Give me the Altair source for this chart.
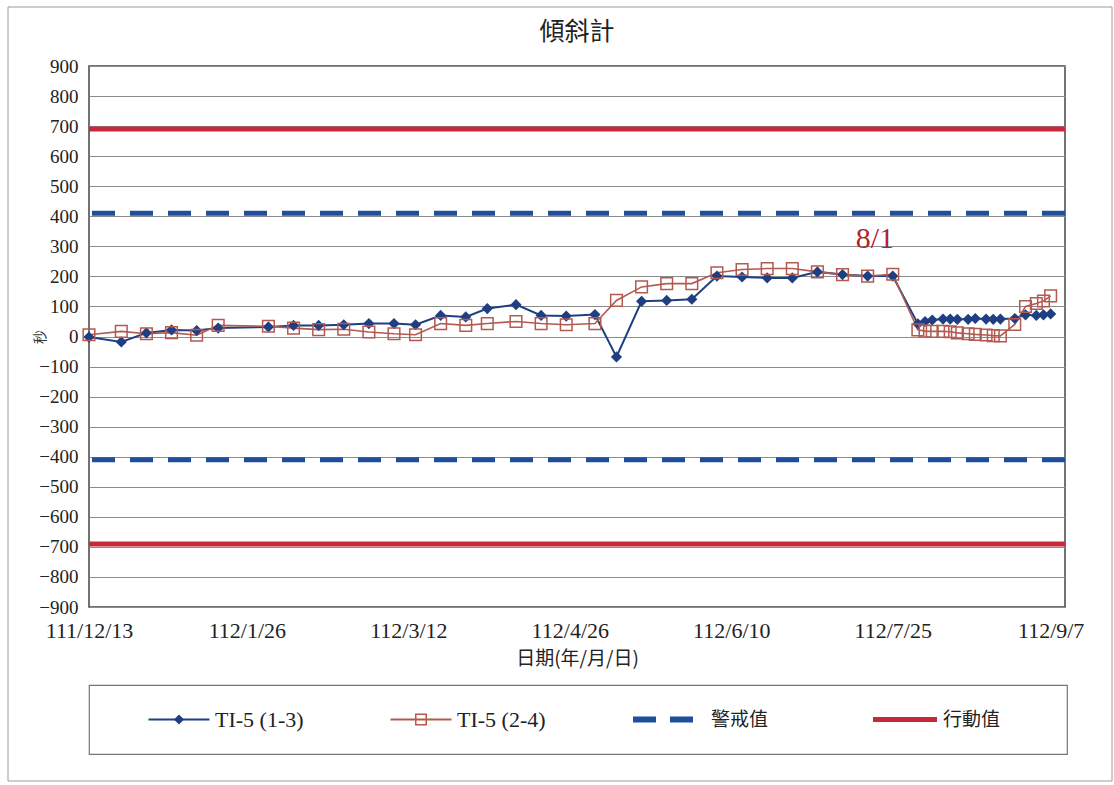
import altair as alt
import pandas as pd

# ---------------- data ----------------
dates = [
    "2022-12-13", "2022-12-22", "2022-12-29", "2023-01-05", "2023-01-12", "2023-01-18",
    "2023-02-01", "2023-02-08", "2023-02-15", "2023-02-22", "2023-03-01", "2023-03-08",
    "2023-03-14", "2023-03-21", "2023-03-28", "2023-04-03", "2023-04-11", "2023-04-18",
    "2023-04-25", "2023-05-03", "2023-05-09", "2023-05-16", "2023-05-23", "2023-05-30",
    "2023-06-06", "2023-06-13", "2023-06-20", "2023-06-27", "2023-07-04", "2023-07-11",
    "2023-07-18", "2023-07-25",
    "2023-08-01", "2023-08-03", "2023-08-05", "2023-08-08", "2023-08-10", "2023-08-12",
    "2023-08-15", "2023-08-17", "2023-08-20", "2023-08-22", "2023-08-24", "2023-08-28",
    "2023-08-31", "2023-09-03", "2023-09-05", "2023-09-07",
]
ti5_13 = [-2, -18, 12, 22, 20, 28, 32, 37, 37, 39, 43, 43,
          39, 70, 65, 93, 106, 70, 68, 73, -68, 117, 120, 124,
          201, 198, 195, 195, 215, 206, 201, 201,
          42, 50, 55, 58, 58, 57, 57, 60, 58, 57, 58, 60, 72, 70, 72, 75]
ti5_24 = [6, 17, 9, 13, 4, 37, 34, 28, 23, 24, 15, 9,
          6, 43, 37, 43, 50, 43, 39, 43, 120, 165, 176, 176,
          212, 223, 226, 226, 215, 206, 201, 207,
          22, 18, 17, 17, 16, 12, 9, 7, 5, 3, 2, 40, 100, 110, 118, 135]

alert_levels = [410, -410]      # 警戒值
action_levels = [690, -690]     # 行動值

x_tick_dates = ["2022-12-13", "2023-01-26", "2023-03-12", "2023-04-26",
                "2023-06-10", "2023-07-25", "2023-09-07"]
x_domain = ["2022-12-13", "2023-09-11"]
y_ticks = list(range(-900, 901, 100))

anno_label = ["8/1"]
anno_date = ["2023-07-20"]
anno_value = [324]

legend_labels = ["TI-5 (1-3)", "TI-5 (2-4)", "警戒值", "行動值"]

title_text = "傾斜計"
x_title = "日期(年/月/日)"
y_title = "秒"

# ---------------- styling ----------------
NAVY = "#1f3f82"
BROWN = "#b35a50"
BLUE = "#1f4f9c"
RED = "#c8283c"
SERIF = "Liberation Serif"
CJK = "Noto Sans CJK TC"


def dt(s):
    y, m, d = map(int, s.split("-"))
    return alt.DateTime(year=y, month=m, date=d)


df1 = pd.DataFrame({"date": [d + "T00:00" for d in dates], "value": ti5_13})
df2 = pd.DataFrame({"date": [d + "T00:00" for d in dates], "value": ti5_24})
df_alert = pd.DataFrame({"value": alert_levels})
df_action = pd.DataFrame({"value": action_levels})
df_anno = pd.DataFrame({"date": [d + "T00:00" for d in anno_date],
                        "value": anno_value, "label": anno_label})

W, H = 976, 541

x_enc = alt.X(
    "date:T",
    scale=alt.Scale(domain=[dt(x_domain[0]), dt(x_domain[1])]),
    axis=alt.Axis(
        values=[dt(s) for s in x_tick_dates],
        labelExpr="(year(datum.value) - 1911) + '/' + (month(datum.value) + 1) + '/' + date(datum.value)",
        grid=False, ticks=False, domain=False,
        labelFont=SERIF, labelFontSize=22, labelColor="#222",
        labelPadding=13, labelOverlap=False, labelFlush=False,
        titleFont=CJK, titleFontSize=19, titleFontWeight="normal",
        titleColor="#222", titlePadding=8,
    ),
    title=x_title,
)
y_enc = alt.Y(
    "value:Q",
    scale=alt.Scale(domain=[-900, 900], nice=False, zero=False),
    axis=alt.Axis(
        values=y_ticks, grid=True, gridColor="#8c8c8c", gridWidth=1,
        ticks=False, domain=False,
        labelFont=SERIF, labelFontSize=19, labelColor="#222", labelPadding=11,
        titleFont=CJK, titleFontSize=14, titleFontWeight="normal", titleColor="#333",
        titleX=-49, titleY=H / 2, titleAlign="center", titleBaseline="middle",
    ),
    title=y_title,
)

alert = alt.Chart(df_alert).mark_rule(
    color=BLUE, strokeWidth=5, strokeDash=[23, 15]
).encode(y=y_enc)
action = alt.Chart(df_action).mark_rule(color=RED, strokeWidth=5).encode(y=y_enc)

line1 = alt.Chart(df1).mark_line(color=NAVY, strokeWidth=2).encode(x=x_enc, y=y_enc)
line2 = alt.Chart(df2).mark_line(color=BROWN, strokeWidth=1.6).encode(x=x_enc, y=y_enc)
pts1 = alt.Chart(df1).mark_point(
    shape="diamond", filled=True, color=NAVY, size=125, opacity=1
).encode(x=x_enc, y=y_enc)
pts2 = alt.Chart(df2).mark_point(
    shape="square", filled=False, color=BROWN, size=135, strokeWidth=1.5, opacity=1
).encode(x=x_enc, y=y_enc)

anno = alt.Chart(df_anno).mark_text(
    font=SERIF, fontSize=30, color="#b0242e", baseline="middle", align="center"
).encode(x=x_enc, y=y_enc, text="label:N")

main = alt.layer(action, alert, line1, line2, pts1, pts2, anno).properties(
    width=W, height=H,
    title=alt.Title(title_text, font=CJK, fontSize=25, fontWeight="normal",
                    color="#222", offset=12),
)

# ---------------- legend panel (also carries the outer page frame) ----------------
LW, LH = 978, 69
leg_df = pd.DataFrame({"label": legend_labels, "idx": list(range(len(legend_labels)))})
lx = alt.X("idx:Q", scale=alt.Scale(domain=[-90 / 242, (LW - 90) / 242]), axis=None)


def leg(i):
    return alt.Chart(leg_df).transform_filter(alt.datum.idx == i)


page_frame = alt.Chart(pd.DataFrame({"k": [0]})).mark_rect(
    filled=False, stroke="#9a9a9a", strokeWidth=1
).encode(x=alt.value(-81), x2=alt.value(1023), y=alt.value(-678), y2=alt.value(96))

leg_layers = [
    page_frame,
    leg(0).mark_point(shape="M-1,0H1", filled=False, color=NAVY, size=61 ** 2,
                      strokeWidth=2, opacity=1).encode(x=lx),
    leg(0).mark_point(shape="diamond", filled=True, color=NAVY, size=100,
                      opacity=1).encode(x=lx),
    leg(1).mark_point(shape="M-1,0H1", filled=False, color=BROWN, size=61 ** 2,
                      strokeWidth=2, opacity=1).encode(x=lx),
    leg(1).mark_point(shape="square", filled=False, color=BROWN, size=110,
                      strokeWidth=1.5, opacity=1).encode(x=lx),
    leg(2).mark_point(shape="M-1,0H-0.233M0.233,0H1", filled=False, color=BLUE,
                      size=60 ** 2, strokeWidth=6, opacity=1).encode(x=lx),
    leg(3).mark_point(shape="M-1,0H1", filled=False, color=RED, size=64 ** 2,
                      strokeWidth=5, opacity=1).encode(x=lx),
    leg(0).mark_text(font=SERIF, fontSize=22, color="#222", align="left",
                     baseline="middle", dx=36).encode(x=lx, text="label:N"),
    leg(1).mark_text(font=SERIF, fontSize=22, color="#222", align="left",
                     baseline="middle", dx=36).encode(x=lx, text="label:N"),
    leg(2).mark_text(font=CJK, fontSize=19, color="#222", align="left",
                     baseline="middle", dx=48).encode(x=lx, text="label:N"),
    leg(3).mark_text(font=CJK, fontSize=19, color="#222", align="left",
                     baseline="middle", dx=38).encode(x=lx, text="label:N"),
]
legend = alt.layer(*leg_layers).properties(
    width=LW, height=LH,
    view=alt.ViewBackground(stroke="#777", strokeWidth=1.2),
)

chart = alt.vconcat(main, legend, spacing=78, bounds="flush").properties(
    padding={"left": 6, "top": 5, "right": 0, "bottom": 0},
    background="white",
).configure_view(stroke="#444", strokeWidth=1.5)

chart.save("out.html", embed_options={"renderer": "svg", "actions": False})
